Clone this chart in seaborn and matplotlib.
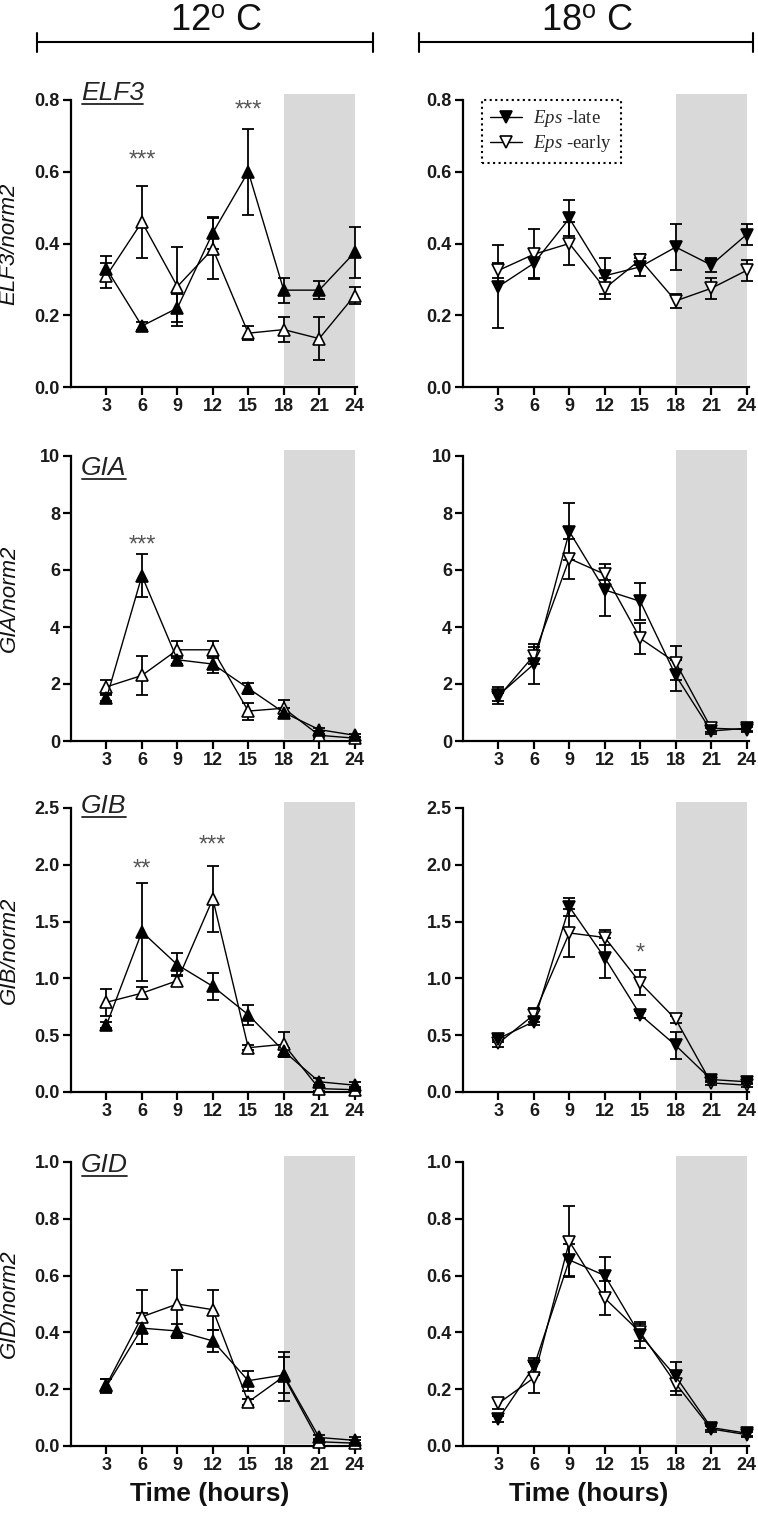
import pandas as pd
import seaborn as sns
import matplotlib.pyplot as plt
from matplotlib.lines import Line2D

hours = [3, 6, 9, 12, 15, 18, 21, 24]

# ELF3
elf3_12_late = [0.33, 0.17, 0.22, 0.43, 0.60, 0.27, 0.27, 0.375]
elf3_12_late_err = [0.035, 0.01, 0.04, 0.045, 0.12, 0.035, 0.025, 0.07]
elf3_12_early = [0.31, 0.46, 0.28, 0.385, 0.15, 0.16, 0.135, 0.255]
elf3_12_early_err = [0.035, 0.10, 0.11, 0.085, 0.02, 0.035, 0.06, 0.025]
elf3_18_late = [0.28, 0.345, 0.47, 0.31, 0.335, 0.39, 0.34, 0.425]
elf3_18_late_err = [0.115, 0.04, 0.05, 0.05, 0.025, 0.065, 0.02, 0.03]
elf3_18_early = [0.325, 0.37, 0.40, 0.275, 0.355, 0.24, 0.275, 0.325]
elf3_18_early_err = [0.02, 0.07, 0.06, 0.03, 0.015, 0.02, 0.03, 0.03]

# GIA
gia_12_late = [1.5, 5.8, 2.85, 2.7, 1.85, 1.0, 0.4, 0.2]
gia_12_late_err = [0.1, 0.75, 0.15, 0.3, 0.2, 0.15, 0.05, 0.05]
gia_12_early = [1.9, 2.3, 3.2, 3.2, 1.05, 1.15, 0.2, 0.1]
gia_12_early_err = [0.25, 0.7, 0.3, 0.3, 0.3, 0.3, 0.05, 0.05]
gia_18_late = [1.6, 2.7, 7.35, 5.3, 4.9, 2.3, 0.35, 0.45]
gia_18_late_err = [0.3, 0.7, 1.0, 0.9, 0.65, 0.55, 0.1, 0.1]
gia_18_early = [1.55, 3.0, 6.4, 5.85, 3.6, 2.75, 0.45, 0.4]
gia_18_early_err = [0.15, 0.3, 0.7, 0.2, 0.55, 0.6, 0.15, 0.1]

# GIB
gib_12_late = [0.59, 1.41, 1.12, 0.93, 0.68, 0.36, 0.09, 0.06]
gib_12_late_err = [0.03, 0.43, 0.1, 0.12, 0.09, 0.03, 0.03, 0.03]
gib_12_early = [0.79, 0.87, 0.98, 1.70, 0.39, 0.42, 0.03, 0.02]
gib_12_early_err = [0.12, 0.05, 0.05, 0.29, 0.02, 0.11, 0.02, 0.02]
gib_18_late = [0.47, 0.62, 1.63, 1.18, 0.68, 0.41, 0.11, 0.09]
gib_18_late_err = [0.03, 0.03, 0.08, 0.18, 0.03, 0.12, 0.02, 0.02]
gib_18_early = [0.43, 0.68, 1.40, 1.36, 0.96, 0.64, 0.08, 0.06]
gib_18_early_err = [0.03, 0.06, 0.21, 0.07, 0.11, 0.03, 0.02, 0.02]

# GID
gid_12_late = [0.21, 0.415, 0.405, 0.37, 0.23, 0.25, 0.03, 0.02]
gid_12_late_err = [0.025, 0.055, 0.025, 0.04, 0.035, 0.065, 0.01, 0.01]
gid_12_early = [0.215, 0.455, 0.50, 0.48, 0.155, 0.245, 0.015, 0.01]
gid_12_early_err = [0.02, 0.095, 0.12, 0.07, 0.01, 0.085, 0.01, 0.01]
gid_18_late = [0.095, 0.28, 0.655, 0.60, 0.39, 0.245, 0.065, 0.045]
gid_18_late_err = [0.01, 0.03, 0.055, 0.065, 0.045, 0.05, 0.01, 0.01]
gid_18_early = [0.15, 0.24, 0.72, 0.52, 0.40, 0.22, 0.06, 0.04]
gid_18_early_err = [0.02, 0.055, 0.125, 0.06, 0.03, 0.04, 0.01, 0.01]

genes = ["ELF3", "GIA", "GIB", "GID"]
temps = ["12", "18"]
y_max = [0.8, 10, 2.5, 1.0]
y_step = [0.2, 2, 0.5, 0.2]
y_fmt = ["{:.1f}", "{:.0f}", "{:.1f}", "{:.1f}"]

# significance marks: (gene, temp, hour, level, label)
stars = [
    ("ELF3", "12", 6, 0.65, "***"),
    ("ELF3", "12", 15, 0.79, "***"),
    ("GIA", "12", 6, 7.1, "***"),
    ("GIB", "12", 6, 2.02, "**"),
    ("GIB", "12", 12, 2.23, "***"),
    ("GIB", "18", 15, 1.28, "*"),
]

series = {
    ("ELF3", "12"): (elf3_12_late, elf3_12_late_err, elf3_12_early, elf3_12_early_err),
    ("ELF3", "18"): (elf3_18_late, elf3_18_late_err, elf3_18_early, elf3_18_early_err),
    ("GIA", "12"): (gia_12_late, gia_12_late_err, gia_12_early, gia_12_early_err),
    ("GIA", "18"): (gia_18_late, gia_18_late_err, gia_18_early, gia_18_early_err),
    ("GIB", "12"): (gib_12_late, gib_12_late_err, gib_12_early, gib_12_early_err),
    ("GIB", "18"): (gib_18_late, gib_18_late_err, gib_18_early, gib_18_early_err),
    ("GID", "12"): (gid_12_late, gid_12_late_err, gid_12_early, gid_12_early_err),
    ("GID", "18"): (gid_18_late, gid_18_late_err, gid_18_early, gid_18_early_err),
}

sns.set_style("ticks")
plt.rcParams["font.family"] = ["Liberation Sans", "DejaVu Sans"]
plt.rcParams["mathtext.fontset"] = "custom"
plt.rcParams["mathtext.it"] = "Liberation Serif:italic"
plt.rcParams["mathtext.rm"] = "Liberation Serif"
plt.rcParams["mathtext.sf"] = "Liberation Sans"

W, H = 758, 1519
fig = plt.figure(figsize=(W / 100, H / 100), dpi=100)

rows_px = [(100, 387), (456, 741), (808, 1092), (1162, 1446)]
cols_px = [71, 463]
ax_w = 286
title_base = [1.0, 0.933, 0.982, 0.965]

titles = []
for r, gene in enumerate(genes):
    top, bot = rows_px[r]
    for c, temp in enumerate(temps):
        ax = fig.add_axes([cols_px[c] / W, 1 - bot / H, ax_w / W, (bot - top) / H])
        late, late_err, early, early_err = series[(gene, temp)]
        mk = "^" if temp == "12" else "v"

        ax.axvspan(18, 24, ymin=0.006, ymax=1.02, color="#d9d9d9", lw=0,
                   zorder=0, clip_on=False)

        df_e = pd.DataFrame({"hour": hours, "val": early})
        df_l = pd.DataFrame({"hour": hours, "val": late})

        ax.errorbar(hours, early, yerr=early_err, fmt="none", ecolor="black",
                    elinewidth=1.3, capsize=4.5, capthick=1.3, zorder=2, clip_on=False)
        ax.errorbar(hours, late, yerr=late_err, fmt="none", ecolor="black",
                    elinewidth=1.3, capsize=4.5, capthick=1.3, zorder=3, clip_on=False)
        sns.lineplot(data=df_e, x="hour", y="val", ax=ax, color="black", lw=1.0,
                     marker=mk, markersize=8.5, markerfacecolor="white",
                     markeredgecolor="black", markeredgewidth=1.2,
                     legend=False, zorder=4, clip_on=False)
        h_early = ax.lines[-1]
        sns.lineplot(data=df_l, x="hour", y="val", ax=ax, color="black", lw=1.0,
                     marker=mk, markersize=8.5, markerfacecolor="black",
                     markeredgecolor="black", markeredgewidth=1.2,
                     legend=False, zorder=5, clip_on=False)
        h_late = ax.lines[-1]

        ax.set_xlim(0, 24.2)
        ax.set_ylim(0, y_max[r])
        ax.set_xticks(hours)
        ax.set_xticklabels([str(h) for h in hours])
        n = int(round(y_max[r] / y_step[r]))
        yt = [i * y_step[r] for i in range(n + 1)]
        ax.set_yticks(yt)
        ax.set_yticklabels([y_fmt[r].format(v) for v in yt])
        sns.despine(ax=ax)
        for s in ["left", "bottom"]:
            ax.spines[s].set_linewidth(1.6)
            ax.spines[s].set_color("black")
        ax.tick_params(axis="both", length=6, width=1.6, color="black",
                       labelsize=13, pad=2, labelcolor="#1a1a1a")
        for lab in ax.get_xticklabels() + ax.get_yticklabels():
            lab.set_fontweight("bold")

        ax.set_xlabel("")
        ax.set_ylabel("")
        if c == 0:
            ax.set_ylabel(gene + "/norm2", fontsize=16, fontstyle="italic",
                          color="#111111")
            ax.yaxis.set_label_coords(-0.18, 0.5)
            t = ax.text(0.035, title_base[r], gene, transform=ax.transAxes,
                        fontsize=19, fontstyle="italic", color="#222222",
                        ha="left", va="baseline")
            titles.append((ax, t))
        if r == 3:
            ax.set_xlabel("Time (hours)", fontsize=19, fontweight="bold",
                          color="#111111")
            ax.xaxis.set_label_coords(0.486 if c == 0 else 0.44, -0.125)

        for g, tp, hx, lv, lab in stars:
            if g == gene and tp == temp:
                ax.annotate(lab, (hx, lv), xytext=(0, -9.5),
                            textcoords="offset points", ha="center",
                            va="baseline", fontsize=17, color="#555555")

        if r == 0 and c == 1:
            leg = ax.legend([h_late, h_early],
                            [r"$\mathit{Eps}$ -late", r"$\mathit{Eps}$ -early"],
                            loc="upper left", bbox_to_anchor=(0.066, 1.0),
                            borderaxespad=0, frameon=True, fancybox=False,
                            handlelength=1.7, handletextpad=0.6,
                            borderpad=0.45, labelspacing=0.2,
                            prop={"family": "Liberation Serif", "size": 13.5})
            fr = leg.get_frame()
            fr.set_edgecolor("black")
            fr.set_linestyle(":")
            fr.set_linewidth(1.5)
            fr.set_alpha(1)

# temperature headers with brackets
for label, xc, x0, x1 in [("12", 216, 37, 373), ("18", 587, 419, 753)]:
    fig.text(xc / W, 1 - 30 / H, label + r"$^\mathsf{o}$ C", fontsize=26,
             ha="center", va="baseline", color="#111111")
    fig.add_artist(Line2D([x0 / W, x1 / W], [1 - 42 / H] * 2, color="black", lw=1.5))
    for xx in (x0, x1):
        fig.add_artist(Line2D([xx / W] * 2, [1 - 33 / H, 1 - 52 / H],
                              color="black", lw=1.5))

# underline the gene names
fig.canvas.draw()
for ax, t in titles:
    bb = t.get_window_extent()
    bx, by = ax.transAxes.transform(t.get_position())
    yy = (by - 4) / (H)
    fig.add_artist(Line2D([(bb.x0 + 1) / W, (bb.x1 - 1) / W], [yy, yy],
                          color="#222222", lw=1.3))

fig.savefig("out.png", dpi=100)
